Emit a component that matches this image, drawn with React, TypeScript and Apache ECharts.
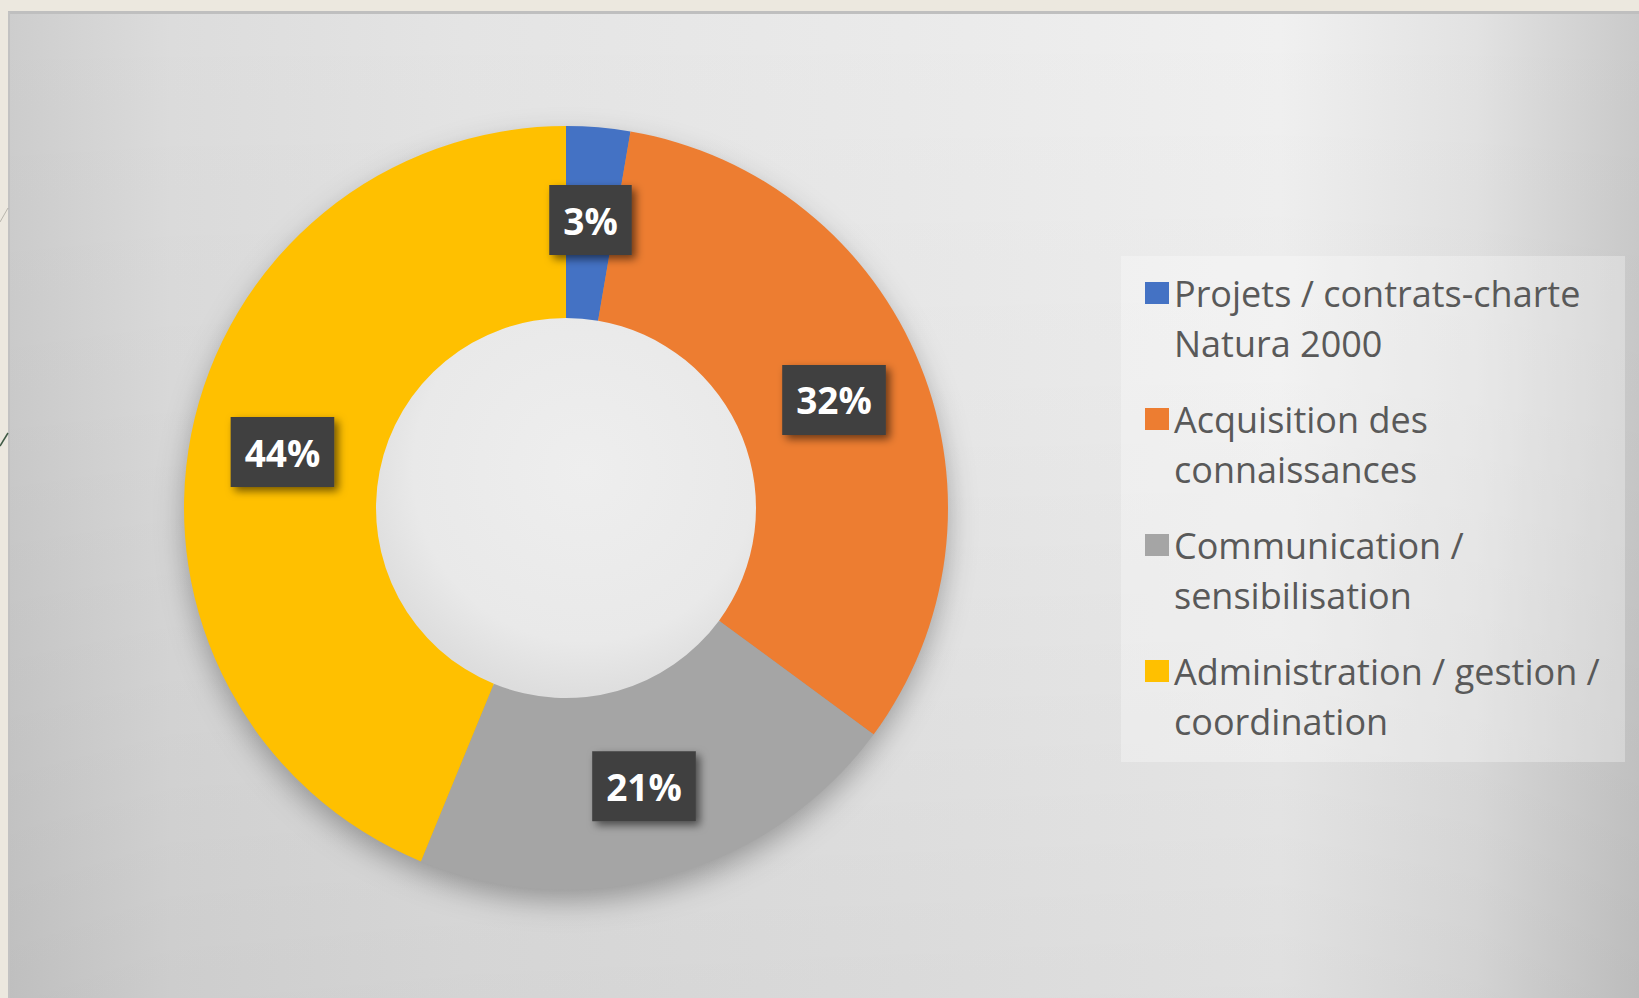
import React, { useEffect, useRef } from "react";
import * as echarts from "echarts";

const categories = [
  "Projets / contrats-charte Natura 2000",
  "Acquisition des connaissances",
  "Communication / sensibilisation",
  "Administration / gestion / coordination",
];
const legendLines = [
  "Projets / contrats-charte\nNatura 2000",
  "Acquisition des\nconnaissances",
  "Communication /\nsensibilisation",
  "Administration / gestion /\ncoordination",
];
const shares = [2.7, 32.4, 21.1, 43.8];
const colors = ["#4472C4", "#ED7D31", "#A5A5A5", "#FFC000"];

export default function App() {
  const ref = useRef<HTMLDivElement>(null);

  useEffect(() => {
    if (!ref.current) return;
    const chart = echarts.init(ref.current, undefined, { renderer: "svg" });
    const cx = 566;
    const cy = 508;
    const rIn = 190;
    const rOut = 382;

    const option: any = {
      animation: false,
      backgroundColor: "#ECE8DF",
      color: colors,
      graphic: [
        {
          type: "rect",
          silent: true,
          shape: { x: 8, y: 12, width: 1631, height: 986 },
          style: {
            fill: {
              type: "linear",
              x: 0,
              y: 0,
              x2: 1,
              y2: 0,
              colorStops: [
                { offset: 0, color: "#cdcdcd" },
                { offset: 0.1, color: "#dcdcdc" },
                { offset: 0.28, color: "#e4e4e4" },
                { offset: 0.55, color: "#eaeaea" },
                { offset: 0.78, color: "#f0f0f0" },
                { offset: 0.9, color: "#e2e2e2" },
                { offset: 1, color: "#cacaca" },
              ],
            },
          },
        },
        {
          type: "rect",
          silent: true,
          shape: { x: 8, y: 12, width: 1631, height: 986 },
          style: {
            fill: {
              type: "linear",
              x: 0,
              y: 0,
              x2: 0,
              y2: 1,
              colorStops: [
                { offset: 0, color: "rgba(0,0,0,0)" },
                { offset: 0.4, color: "rgba(0,0,0,0.02)" },
                { offset: 1, color: "rgba(0,0,0,0.07)" },
              ],
            },
          },
        },
        {
          type: "rect",
          silent: true,
          shape: { x: 8, y: 11, width: 1631, height: 3 },
          style: { fill: "#bfbfbf" },
        },
        {
          type: "rect",
          silent: true,
          shape: { x: 8, y: 12, width: 2, height: 986 },
          style: { fill: "#c2c2c2" },
        },
        {
          type: "line",
          silent: true,
          shape: { x1: 0, y1: 446, x2: 8, y2: 433 },
          style: { stroke: "#3f5a45", lineWidth: 1.5 },
        },
        {
          type: "line",
          silent: true,
          shape: { x1: 0, y1: 222, x2: 8, y2: 208 },
          style: { stroke: "rgba(120,120,110,0.45)", lineWidth: 1 },
        },
        {
          type: "ring",
          silent: true,
          shape: { cx, cy, r: rOut - 2, r0: rIn + 2 },
          style: {
            fill: "#9a9a9a",
            shadowBlur: 30,
            shadowOffsetY: 12,
            shadowOffsetX: 0,
            shadowColor: "rgba(0,0,0,0.32)",
          },
        },
        {
          type: "circle",
          silent: true,
          shape: { cx, cy, r: rIn + 1 },
          style: {
            fill: {
              type: "radial",
              x: 0.55,
              y: 0.4,
              r: 0.6,
              colorStops: [
                { offset: 0, color: "#eeeeee" },
                { offset: 0.75, color: "#e9e9e9" },
                { offset: 1, color: "#dddddd" },
              ],
            },
          },
        },
        {
          type: "rect",
          silent: true,
          shape: { x: 1121, y: 256, width: 504, height: 506 },
          style: { fill: "rgba(255,255,255,0.3)" },
        },
      ],
      legend: {
        orient: "vertical",
        left: 1145,
        top: 218,
        padding: 0,
        itemWidth: 24,
        itemHeight: 22,
        itemGap: -24,
        icon: "rect",
        selectedMode: false,
        data: categories,
        formatter: (name: string) => "\n" + legendLines[categories.indexOf(name)],
        textStyle: {
          color: "#595959",
          fontFamily: "Open Sans",
          fontSize: 36,
          lineHeight: 50,
        },
      },
      series: [
        {
          type: "pie",
          center: [cx, cy],
          radius: [rIn, rOut],
          startAngle: 90,
          clockwise: true,
          silent: true,
          emphasis: { disabled: true },
          itemStyle: { borderWidth: 0 },
          labelLine: { show: false },
          label: {
            show: true,
            position: "inside",
            formatter: (p: any) => Math.round(p.percent) + "%",
            color: "#ffffff",
            fontFamily: "Open Sans",
            fontWeight: "bold",
            fontSize: 37,
            lineHeight: 44,
            backgroundColor: "#404040",
            padding: [14, 14, 12, 14],
            shadowBlur: 8,
            shadowColor: "rgba(0,0,0,0.55)",
            shadowOffsetX: 4,
            shadowOffsetY: 4,
          },
          data: categories.map((name, i) => ({ name, value: shares[i] })),
        },
      ],
    };

    chart.setOption(option);
    return () => {
      chart.dispose();
    };
  }, []);

  return (
    <div
      ref={ref}
      style={{ position: "fixed", left: 0, top: 0, width: 1639, height: 998 }}
    />
  );
}
